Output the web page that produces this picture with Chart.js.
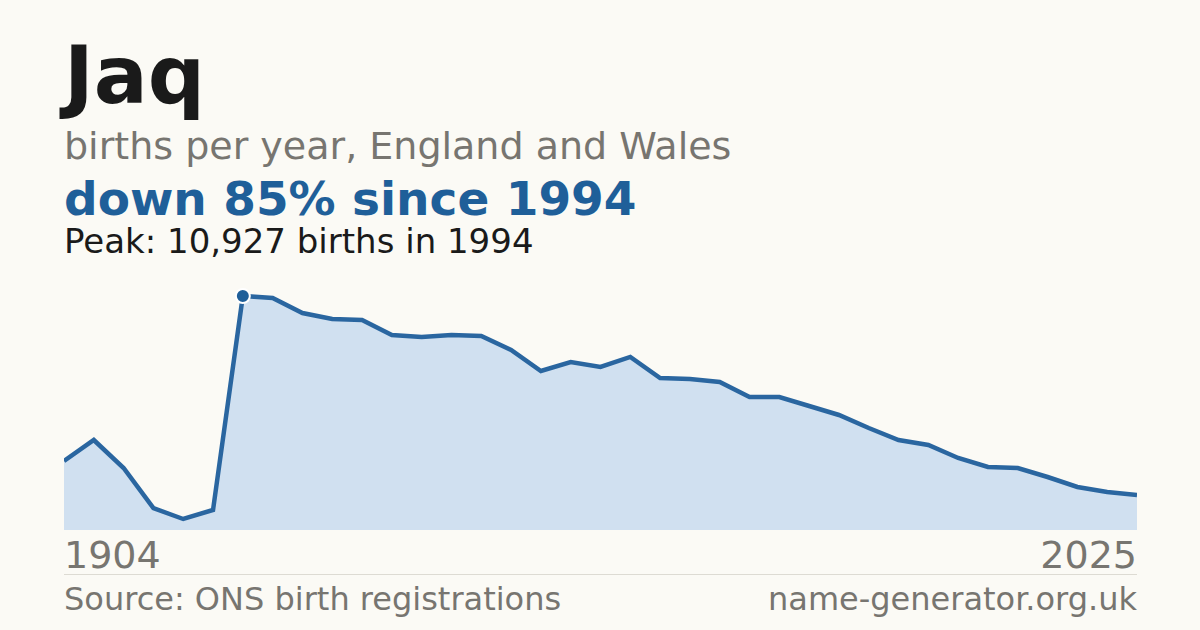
<!DOCTYPE html>
<html><head><meta charset="utf-8">
<script src="https://cdn.jsdelivr.net/npm/chart.js@4"></script>
<style>
body{margin:0;width:1200px;height:630px;background:#fbfaf5;font-family:"DejaVu Sans",sans-serif;position:relative;overflow:hidden}
.t{position:absolute;left:64px;white-space:nowrap}
</style></head><body>
<div class="t" style="top:36px;font-size:80px;font-weight:bold;color:#1a1a1a;line-height:1">Jaq</div>
<div class="t" style="top:126px;font-size:38px;color:#777570;line-height:1.1">births per year, England and Wales</div>
<div class="t" style="top:173px;font-size:47px;font-weight:bold;color:#1f5f99;line-height:1.1">down 85% since 1994</div>
<div class="t" style="top:223px;font-size:34px;color:#1a1a1a;line-height:1.1">Peak: 10,927 births in 1994</div>
<div style="position:absolute;left:64px;top:280px;width:1073px;height:250px"><canvas id="c"></canvas></div>
<div class="t" style="top:535px;font-size:38px;color:#777570;line-height:1.1">1904</div>
<div class="t" style="top:535px;left:auto;right:63px;font-size:38px;color:#777570;line-height:1.1">2025</div>
<div style="position:absolute;left:64px;width:1073px;top:574px;border-top:1px solid #dddbd3"></div>
<div class="t" style="top:582px;font-size:32px;color:#777570;line-height:1.1">Source: ONS birth registrations</div>
<div class="t" style="top:582px;left:auto;right:63px;font-size:32px;color:#777570;line-height:1.1">name-generator.org.uk</div>
<script>
const years=[1904,1950,1970,1980,1985,1990,1994,1995,1996,1997,1998,1999,2000,2001,2002,2003,2004,2005,2006,2007,2008,2009,2010,2011,2012,2013,2014,2015,2016,2017,2018,2019,2020,2021,2022,2023,2025];
const births=[3222,4203,2895,1027,514,934,10927,10834,10134,9854,9807,9106,9013,9106,9060,8406,7425,7846,7612,8079,7098,7052,6912,6211,6211,5791,5371,4763,4203,3970,3362,2942,2895,2475,2008,1775,1635];
const peakIdx=births.indexOf(Math.max(...births));
new Chart(document.getElementById('c'),{type:'line',
data:{labels:years,datasets:[{data:births,borderColor:'#2a66a0',borderWidth:4.5,backgroundColor:'#d0e0f0',fill:'origin',tension:0,
pointRadius:births.map((v,i)=>i===peakIdx?7:0),pointBackgroundColor:'#1f5f99',pointBorderColor:'#ffffff',pointBorderWidth:2,clip:false}]},
options:{responsive:true,maintainAspectRatio:false,animation:false,layout:{padding:0},
plugins:{legend:{display:false},tooltip:{enabled:false}},
scales:{x:{display:false,offset:false},y:{display:false,min:0,max:11674}}}});
</script></body></html>
